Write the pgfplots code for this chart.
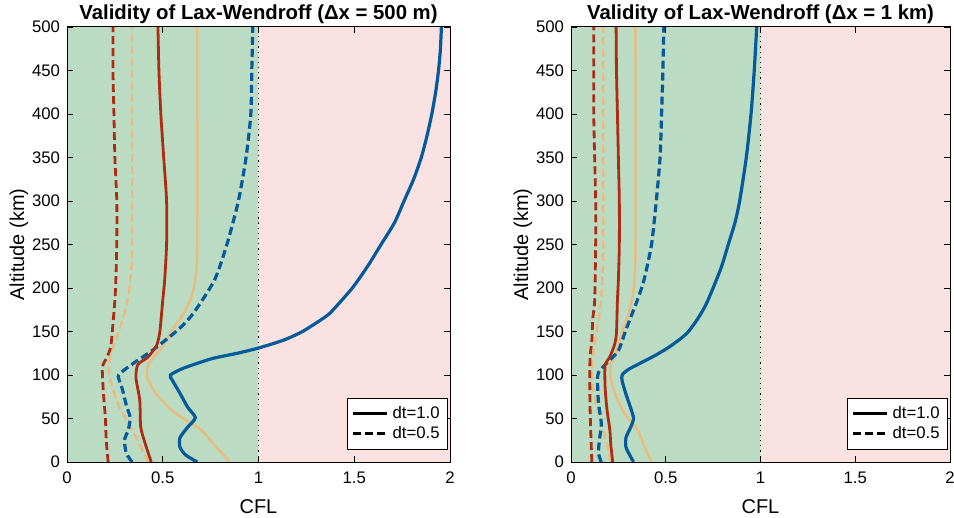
\documentclass[border=0pt]{standalone}
\usepackage{fontspec}
\setmainfont{Liberation Sans}
\usepackage{pgfplots}
\pgfplotsset{compat=1.18}

\definecolor{bgG}{RGB}{188,219,195}
\definecolor{bgR}{RGB}{249,226,225}
\definecolor{cB}{RGB}{5,90,155}
\definecolor{cR}{RGB}{172,45,18}
\definecolor{cO}{RGB}{243,182,112}

\pgfplotsset{
  cflax/.style={
    scale only axis, width=191.5bp, height=217.5bp,
    xmin=0,xmax=2,ymin=0,ymax=500,
    xtick={0,0.5,1,1.5,2}, ytick={0,50,...,500},
    tick align=inside, major tick length=3bp,
    tick style={black, line width=0.4pt},
    axis line style={black, line width=0.5pt},
    ticklabel style={font=\fontsize{8.4}{10}\selectfont},
    xticklabel style={yshift=-1.5bp},
    /pgf/number format/assume math mode=true,
    xlabel={CFL}, ylabel={Altitude (km)},
    label style={font=\fontsize{10}{12}\selectfont},
    xlabel style={yshift=-1bp},
    ylabel style={yshift=-5bp},
    title style={font=\bfseries\fontsize{10.2}{12}\selectfont, yshift=-8bp},
    legend style={at={(0.995,0.028)}, anchor=south east, draw=black, line width=0.5pt,
      font=\fontsize{8.4}{10}\selectfont, inner sep=2bp, row sep=-1.5bp, fill=white},
    legend cell align=left,
    axis on top,
  },
  bsol/.style={cB, line width=1.6bp, smooth, tension=0.4, forget plot},
  bdash/.style={cB, line width=1.6bp, smooth, tension=0.4, dash pattern=on 4bp off 2bp, forget plot},
  rsol/.style={cR, line width=1.4bp, smooth, tension=0.4, forget plot},
  rdash/.style={cR, line width=1.4bp, smooth, tension=0.4, dash pattern=on 4bp off 2bp, forget plot},
  osol/.style={cO, line width=1.2bp, smooth, tension=0.4, opacity=0.85, forget plot},
  odash/.style={cO, line width=1.2bp, smooth, tension=0.4, opacity=0.85, dash pattern=on 4bp off 2bp, forget plot},
}

\begin{document}
\begin{tikzpicture}
\path[use as bounding box] (-33.5bp,-28bp) rectangle (443.5bp,231bp);
% ---------------- left: dx = 500 m
\begin{axis}[cflax, at={(0bp,0bp)}, title={Validity of Lax-Wendroff (Δx = 500 m)}]
\addplot[fill=bgG, draw=none, forget plot] coordinates {(0,0)(1,0)(1,500)(0,500)(0,0)};
\addplot[fill=bgR, draw=none, forget plot] coordinates {(1,0)(2,0)(2,500)(1,500)(1,0)};
\addplot[black, dotted, line width=0.6pt, forget plot] coordinates {(1,0)(1,500)};
% orange
\addplot[osol] table[x index=1, y index=0] {
0 0.85
17 0.78
37 0.70
57 0.56
77 0.47
96 0.42
112 0.425
130 0.49
150 0.545
171 0.61
190 0.65
209 0.67
250 0.68
500 0.68
};
\addplot[odash] table[x index=1, y index=0] {
0 0.425
20 0.38
41 0.33
60 0.28
80 0.245
100 0.22
115 0.22
128 0.235
150 0.27
171 0.30
190 0.32
209 0.33
250 0.34
500 0.34
};
% blue
\addplot[bsol] table[x index=1, y index=0] {
0 0.68
8 0.62
17 0.59
28 0.59
40 0.63
51 0.67
63 0.63
79 0.59
94 0.55
100 0.54
108 0.61
119 0.76
125 0.89
131 1.00
140 1.13
150 1.23
167 1.35
175 1.39
200 1.49
225 1.57
250 1.64
275 1.71
300 1.76
325 1.81
350 1.85
375 1.88
400 1.905
425 1.925
450 1.94
475 1.95
500 1.955
};
\addplot[bdash] table[x index=1, y index=0] {
0 0.34
10 0.31
25 0.30
37 0.32
51 0.33
65 0.31
83 0.29
96 0.27
100 0.27
106 0.30
117 0.37
129 0.45
152 0.58
171 0.66
209 0.77
250 0.835
300 0.895
350 0.935
400 0.96
450 0.965
500 0.97
};
% red
\addplot[rsol] table[x index=1, y index=0] {
0 0.44
20 0.41
40 0.385
71 0.38
97 0.36
112 0.37
120 0.42
128 0.45
135 0.47
150 0.485
186 0.50
209 0.51
250 0.52
300 0.52
350 0.505
400 0.49
450 0.48
500 0.475
};
\addplot[rdash] table[x index=1, y index=0] {
0 0.215
25 0.205
52 0.20
80 0.19
109 0.185
121 0.21
135 0.23
186 0.25
209 0.255
250 0.26
300 0.26
350 0.25
400 0.245
450 0.24
500 0.24
};
\addlegendimage{black, line width=1.4bp}
\addlegendentry{dt=1.0}
\addlegendimage{black, line width=1.4bp, dash pattern=on 4bp off 2bp}
\addlegendentry{dt=0.5}
\end{axis}
% ---------------- right: dx = 1 km
\begin{axis}[cflax, at={(252bp,0bp)}, width=189.5bp, title={Validity of Lax-Wendroff (Δx = 1 km)}]
\addplot[fill=bgG, draw=none, forget plot] coordinates {(0,0)(1,0)(1,500)(0,500)(0,0)};
\addplot[fill=bgR, draw=none, forget plot] coordinates {(1,0)(2,0)(2,500)(1,500)(1,0)};
\addplot[black, dotted, line width=0.6pt, forget plot] coordinates {(1,0)(1,500)};
% orange
\addplot[osol] table[x index=1, y index=0] {
0 0.425
17 0.39
37 0.35
57 0.28
77 0.235
96 0.21
112 0.21
130 0.245
150 0.27
171 0.305
190 0.325
209 0.335
250 0.34
500 0.34
};
\addplot[odash] table[x index=1, y index=0] {
0 0.21
20 0.19
41 0.165
60 0.14
80 0.12
100 0.11
115 0.11
128 0.12
150 0.135
171 0.15
190 0.16
209 0.165
250 0.17
500 0.17
};
% blue
\addplot[bsol] table[x index=1, y index=0] {
0 0.33
8 0.31
17 0.29
28 0.29
40 0.315
50 0.33
62 0.315
78 0.29
93 0.27
100 0.27
106 0.30
113 0.36
122 0.44
131 0.51
142 0.58
150 0.62
165 0.67
180 0.71
200 0.75
225 0.795
250 0.83
275 0.865
300 0.89
350 0.925
400 0.95
450 0.967
500 0.98
};
\addplot[bdash] table[x index=1, y index=0] {
0 0.16
10 0.145
25 0.15
44 0.16
68 0.145
93 0.14
103 0.145
114 0.19
128 0.25
152 0.29
186 0.35
209 0.385
250 0.425
300 0.45
350 0.47
400 0.478
450 0.485
500 0.49
};
% red
\addplot[rsol] table[x index=1, y index=0] {
0 0.22
20 0.21
37 0.205
60 0.19
86 0.18
111 0.18
121 0.205
135 0.23
149 0.24
186 0.245
209 0.25
250 0.255
300 0.255
350 0.25
400 0.245
450 0.24
500 0.238
};
\addplot[rdash] table[x index=1, y index=0] {
0 0.11
30 0.105
68 0.10
117 0.10
140 0.11
165 0.115
186 0.125
250 0.13
300 0.13
400 0.12
500 0.12
};
\addlegendimage{black, line width=1.4bp}
\addlegendentry{dt=1.0}
\addlegendimage{black, line width=1.4bp, dash pattern=on 4bp off 2bp}
\addlegendentry{dt=0.5}
\end{axis}
\end{tikzpicture}
\end{document}
